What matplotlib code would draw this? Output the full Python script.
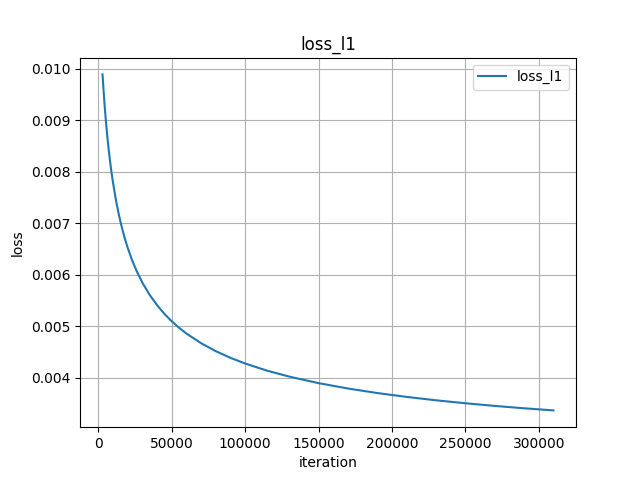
import matplotlib
matplotlib.use('Agg')
import matplotlib.pyplot as plt

# values
iteration = [2900, 3500, 4250, 5000, 6000, 7000, 8000, 9000, 10000, 12000,
             14000, 16000, 18000, 20000, 23000, 26000, 30000, 35000, 40000,
             45000, 50000, 55000, 60000, 70000, 80000, 90000, 100000,
             115000, 130000, 150000, 170000, 190000, 210000, 230000,
             250000, 270000, 290000, 310000]
loss_l1 = [0.009890, 0.009618, 0.009315, 0.009045, 0.008729, 0.008453,
           0.008208, 0.007990, 0.007794, 0.007454, 0.007169, 0.006925,
           0.006713, 0.006528, 0.006287, 0.006082, 0.005850, 0.005611,
           0.005413, 0.005244, 0.005100, 0.004974, 0.004862, 0.004674,
           0.004519, 0.004390, 0.004280, 0.004141, 0.004026, 0.003899,
           0.003795, 0.003707, 0.003632, 0.003566, 0.003509, 0.003457,
           0.003411, 0.003370]


def plot():
    fig, ax = plt.subplots(figsize=(6.4, 4.8), dpi=100)
    ax.plot(iteration, loss_l1, label='loss_l1')
    ax.set_title('loss_l1')
    ax.set_xlabel('iteration')
    ax.set_ylabel('loss')
    ax.grid(True)
    ax.legend(loc='upper right')
    fig.savefig('out.png')


if __name__ == '__main__':
    plot()
